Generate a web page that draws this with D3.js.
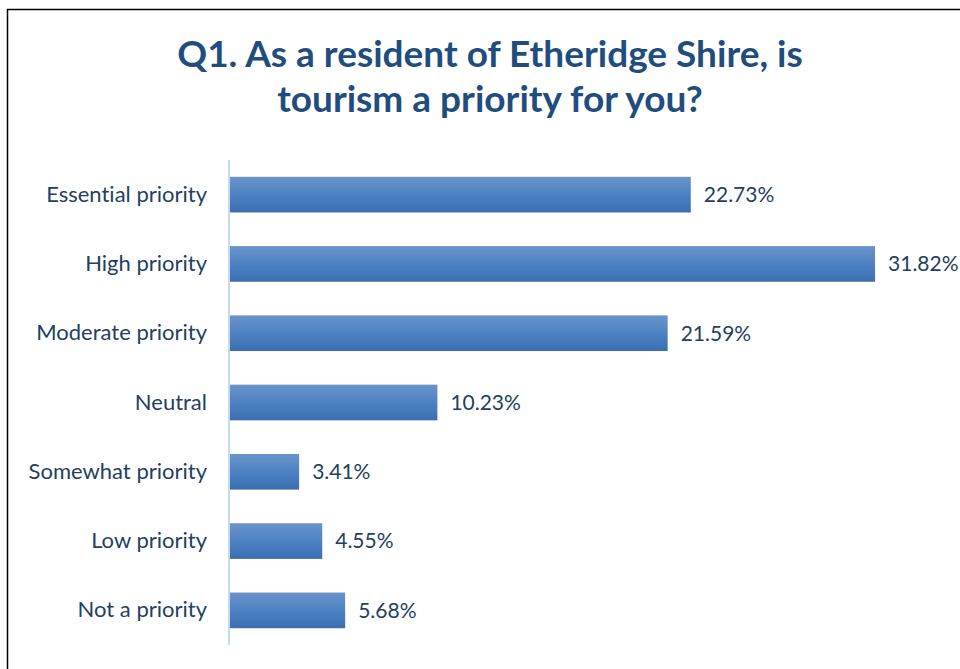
<!DOCTYPE html>
<html>
<head>
<meta charset="utf-8">
<script src="https://cdn.jsdelivr.net/npm/d3@7"></script>
<style>
  html, body { margin: 0; padding: 0; background: #fff; }
  svg { display: block; }
  text { font-variant-ligatures: none; }
</style>
</head>
<body>
<svg id="chart" width="960" height="669"></svg>
<script>
// Survey responses: share of residents per priority level
const categories = ["Essential priority", "High priority", "Moderate priority", "Neutral", "Somewhat priority", "Low priority", "Not a priority"];
const values = [22.73, 31.82, 21.59, 10.23, 3.41, 4.55, 5.68];
const titleLines = ["Q1. As a resident of Etheridge Shire, is", "tourism a priority for you?"];

const svg = d3.select("#chart");
const FONT = "Lato, 'Open Sans', sans-serif";
const textColor = "#243f60";
const titleColor = "#1f4e7e";

// outer frame (runs off the right and bottom edges)
svg.append("rect")
  .attr("x", 7.5).attr("y", 9.5)
  .attr("width", 1000).attr("height", 1000)
  .attr("fill", "none").attr("stroke", "#000").attr("stroke-width", 1.5);

// bar gradient
const grad = svg.append("defs").append("linearGradient")
  .attr("id", "barGrad").attr("x1", 0).attr("y1", 0).attr("x2", 0).attr("y2", 1);
grad.append("stop").attr("offset", "0%").attr("stop-color", "#6a94ca");
grad.append("stop").attr("offset", "55%").attr("stop-color", "#4a80c2");
grad.append("stop").attr("offset", "100%").attr("stop-color", "#3a6eb0");

// title
svg.append("text")
  .attr("x", 490).attr("y", 67)
  .attr("text-anchor", "middle")
  .attr("font-family", FONT).attr("font-weight", 700).attr("font-size", 37)
  .attr("fill", titleColor)
  .selectAll("tspan").data(titleLines).join("tspan")
  .attr("x", 490).attr("dy", (d, i) => i === 0 ? 0 : 45)
  .text(d => d);

// scales
const x = d3.scaleLinear().domain([0, 35]).range([230, 939.5]);
const y = d3.scaleBand().domain(categories).range([160, 645]).paddingInner(0.485).paddingOuter(0.2425);

// category axis
const yAxis = svg.append("g")
  .attr("transform", `translate(${x(0) - 1},0)`)
  .call(d3.axisLeft(y).tickSize(0).tickPadding(22));
yAxis.select(".domain").attr("stroke", "#c6d9f0").attr("stroke-width", 2)
  .attr("d", "M0,160V645");
yAxis.selectAll("text")
  .attr("font-family", FONT).attr("font-size", 22).attr("fill", textColor);

const data = categories.map((c, i) => ({ c, v: values[i] }));

// bars
svg.append("g").selectAll("rect").data(data).join("rect")
  .attr("x", x(0))
  .attr("y", d => y(d.c))
  .attr("width", d => x(d.v) - x(0))
  .attr("height", y.bandwidth())
  .attr("fill", "url(#barGrad)");

// value labels
svg.append("g").selectAll("text").data(data).join("text")
  .attr("x", d => x(d.v) + 13)
  .attr("y", d => y(d.c) + y.bandwidth() / 2)
  .attr("dy", "0.35em")
  .attr("font-family", FONT).attr("font-size", 21).attr("fill", textColor)
  .text(d => d.v.toFixed(2) + "%");
</script>
</body>
</html>
